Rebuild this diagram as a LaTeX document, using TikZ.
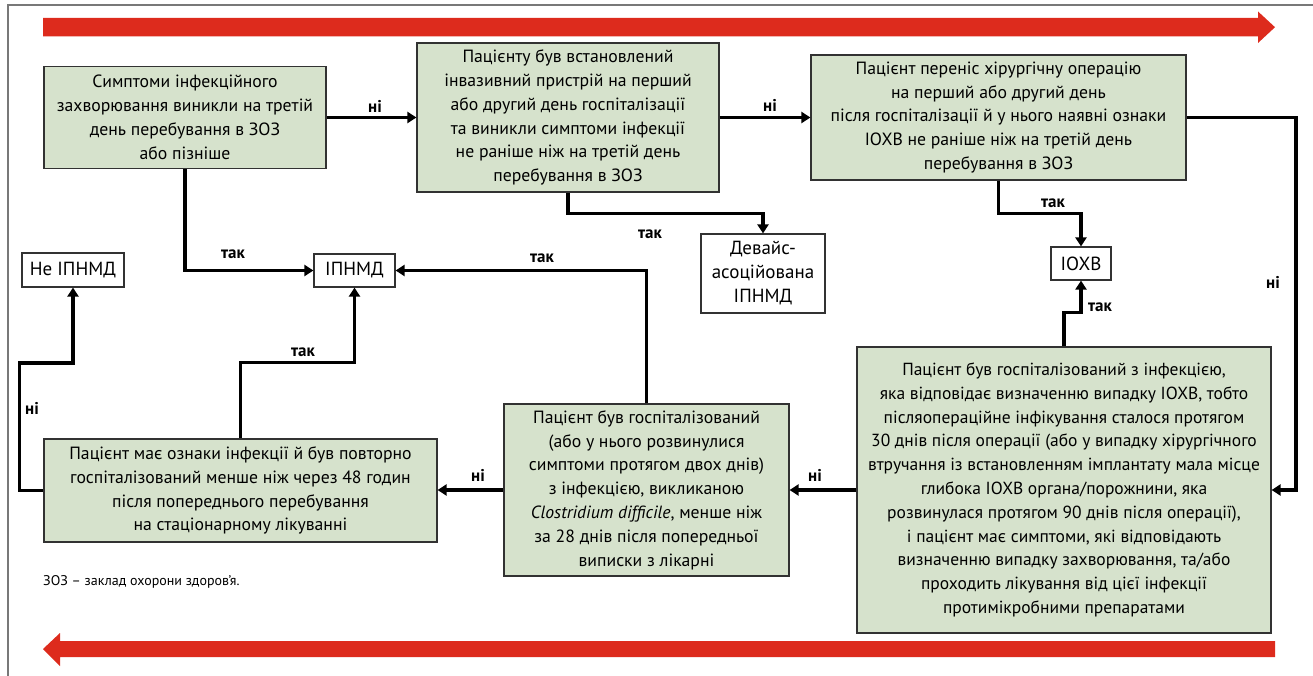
\documentclass[tikz,border=0pt]{standalone}
\usepackage{fontspec}
\setmainfont{PT Sans}
\usetikzlibrary{arrows.meta}
\definecolor{boxgreen}{RGB}{214,226,204}
\definecolor{boxline}{RGB}{50,50,50}
\definecolor{redarrow}{RGB}{221,43,29}
\definecolor{framegray}{RGB}{120,120,120}
\tikzset{
 gbox/.style={draw=boxline, line width=1.2pt, fill=boxgreen, align=center, inner sep=2pt, font=\fontsize{17.7}{23.8}\selectfont},
 wbox/.style={draw=boxline, line width=1.2pt, fill=white, align=center, inner sep=2pt, font=\fontsize{19}{24}\selectfont},
 conn/.style={line width=3.8pt, -{Triangle[length=9pt 0, width=11pt 0]}},
 lbl/.style={font=\bfseries\fontsize{17}{20}\selectfont, inner sep=0pt},
}
\begin{document}
\begin{tikzpicture}[x=1pt,y=-1pt]
\useasboundingbox (0,0) rectangle (1313,676);
% frame
\draw[framegray, line width=1.3pt] (1313,5) -- (8,5) -- (8,676);
% red arrows
\fill[redarrow] (43,18) -- (1258,18) -- (1258,11.5) -- (1275,27.2) -- (1258,43) -- (1258,36.5) -- (43,36.5) -- cycle;
\fill[redarrow] (1275,641) -- (60,641) -- (60,633) -- (43,649) -- (60,666) -- (60,657) -- (1275,657) -- cycle;
% boxes
\node[gbox, minimum width=282pt, minimum height=102pt] (b1) at (185,117.5) {Симптоми інфекційного\\захворювання виникли на третій\\день перебування в ЗОЗ\\або пізніше};
\node[gbox, minimum width=302pt, minimum height=149pt] (b2) at (568,117.5) {Пацієнту був встановлений\\інвазивний пристрій на перший\\або другий день госпіталізації\\та виникли симптоми інфекції\\не раніше ніж на третій день\\перебування в ЗОЗ};
\node[gbox, minimum width=375pt, minimum height=125pt] (b3) at (998.5,117.5) {Пацієнт переніс хірургічну операцію\\на перший або другий день\\після госпіталізації й у нього наявні ознаки\\ІОХВ не раніше ніж на третій день\\перебування в ЗОЗ};
\node[gbox, minimum width=414pt, minimum height=286pt, font=\fontsize{17.5}{23.8}\selectfont] (b4) at (1064,490) {Пацієнт був госпіталізований з інфекцією,\\яка відповідає визначенню випадку ІОХВ, тобто\\післяопераційне інфікування сталося протягом\\30 днів після операції (або у випадку хірургічного\\втручання із встановленням імплантату мала місце\\глибока ІОХВ органа/порожнини, яка\\розвинулася протягом 90 днів після операції),\\і пацієнт має симптоми, які відповідають\\визначенню випадку захворювання, та/або\\проходить лікування від цієї інфекції\\протимікробними препаратами};
\node[gbox, minimum width=285pt, minimum height=172pt] (b5) at (646.5,490) {Пацієнт був госпіталізований\\(або у нього розвинулися\\симптоми протягом двох днів)\\з інфекцією, викликаною\\\textit{Clostridium difficile}, менше ніж\\за 28 днів після попередньої\\виписки з лікарні};
\node[gbox, minimum width=393pt, minimum height=103pt] (b6) at (240.5,490.5) {Пацієнт має ознаки інфекції й був повторно\\госпіталізований менше ніж через 48 годин\\після попереднього перебування\\на стаціонарному лікуванні};
\node[wbox, minimum width=81pt, minimum height=33pt] (ip) at (354.5,270.5) {ІПНМД};
\node[wbox, minimum width=102pt, minimum height=34pt] (ne) at (73,270) {Не ІПНМД};
\node[wbox, minimum width=124pt, minimum height=79pt] (dev) at (763,273.5) {Девайс-\\асоційована\\ІПНМД};
\node[wbox, minimum width=60pt, minimum height=33pt] (io) at (1081,263.5) {ІОХВ};
% connectors
\draw[conn] (b1.east) -- (b1.east -| b2.west);
\draw[conn] (b2.east) -- (b2.east -| b3.west);
\draw[conn] (b1.south) |- (ip.west);
\draw[conn] (b2.south) -- ++(0,21) -| (dev.north);
\draw[conn] (b3.south) -- ++(0,33) -| (io.north);
\draw[conn] (b3.east) -- ++(109,0) |- (b4.east);
\draw[conn] (b4.north) -- ++(0,-34) -| (io.south);
\draw[conn] (b4.west) -- (b4.west -| b5.east);
\draw[conn] (b5.west) -- (b5.west -| b6.east);
\draw[conn] (b5.north) |- (ip.east);
\draw[conn] (b6.north) -- ++(0,-76) -| (ip.south);
\draw[conn] (b6.west) -- ++(-24,0) |- (73,363) -- (ne.south);
% labels
\node[lbl] (l1) at (375,106) {ні};
\node[lbl] (l2) at (770,105) {ні};
\node[lbl] (l3) at (233,254) {так};
\node[lbl] (l4) at (650,234) {так};
\node[lbl] (l5) at (1053,203) {так};
\node[lbl] (l6) at (1273,282) {ні};
\node[lbl] (l7) at (1100,307) {так};
\node[lbl] (l8) at (815,475) {ні};
\node[lbl] (l9) at (478,475) {ні};
\node[lbl] (l10) at (542,258) {так};
\node[lbl] (l11) at (303,352) {так};
\node[lbl] (l12) at (32,408) {ні};
\node[anchor=west, inner sep=0pt, font=\fontsize{14}{16}\selectfont] (fn) at (43,582) {ЗОЗ – заклад охорони здоров’я.};
\end{tikzpicture}
\end{document}
